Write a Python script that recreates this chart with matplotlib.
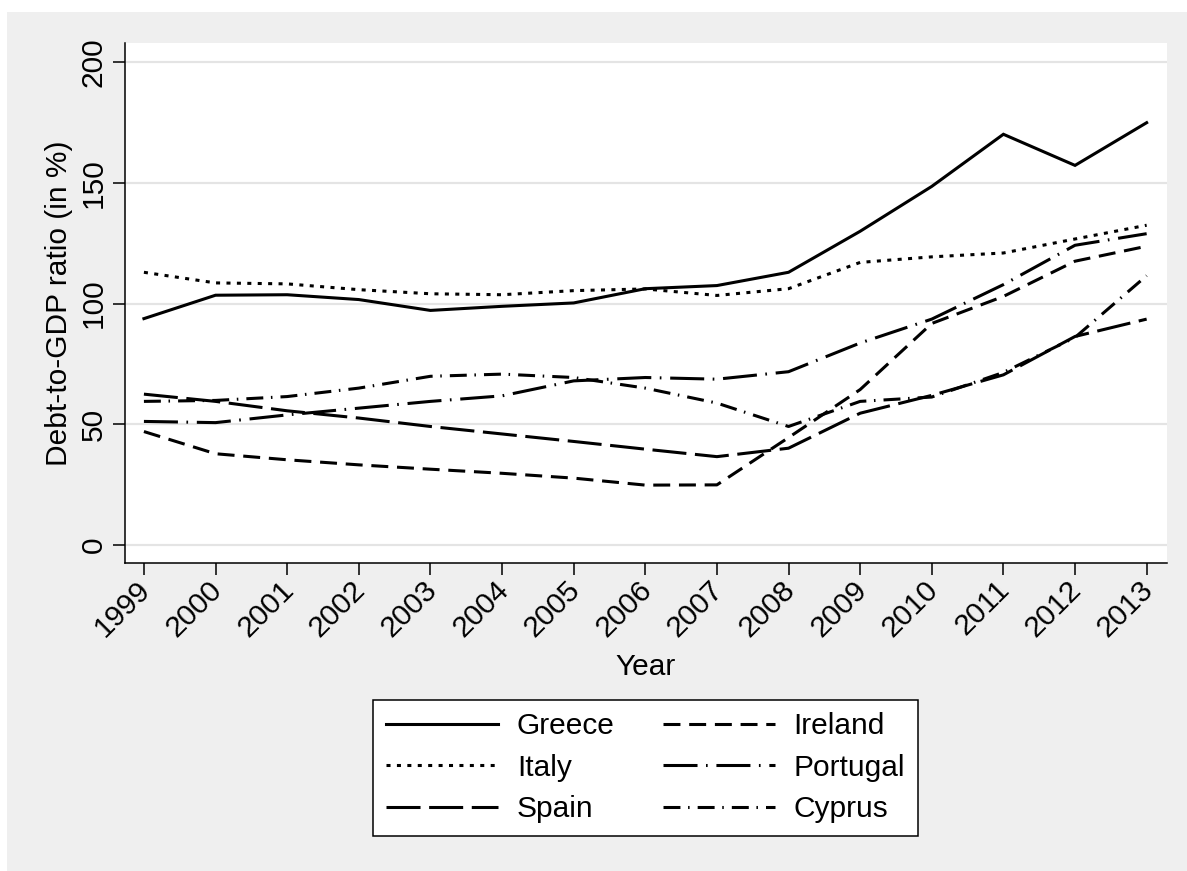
import matplotlib
matplotlib.use("Agg")
import matplotlib.pyplot as plt
from matplotlib.patches import Rectangle

plt.rcParams['font.family'] = ['Liberation Sans', 'DejaVu Sans']
plt.rcParams['lines.scale_dashes'] = False

years = [1999, 2000, 2001, 2002, 2003, 2004, 2005, 2006, 2007, 2008, 2009, 2010, 2011, 2012, 2013]
greece = [93.8, 103.5, 103.7, 101.7, 97.2, 98.9, 100.3, 106.2, 107.5, 113.0, 130.0, 148.6, 170.2, 157.3, 175.0]
italy = [113.0, 108.6, 108.2, 105.8, 104.1, 103.7, 105.4, 106.1, 103.4, 106.2, 117.1, 119.4, 121.0, 126.8, 132.5]
spain = [62.5, 59.5, 55.6, 52.6, 49.1, 46.0, 42.9, 39.7, 36.6, 40.1, 54.6, 62.0, 70.5, 86.4, 93.6]
ireland = [47.0, 37.8, 35.3, 33.2, 31.4, 29.7, 27.7, 24.8, 24.9, 44.5, 64.4, 91.8, 103.0, 117.6, 123.8]
portugal = [51.2, 50.7, 53.9, 56.7, 59.5, 61.8, 68.0, 69.4, 68.7, 71.8, 83.7, 93.6, 107.9, 124.2, 129.0]
cyprus = [59.5, 59.9, 61.5, 65.0, 69.9, 70.8, 69.4, 65.0, 58.8, 49.1, 59.5, 61.3, 71.5, 86.0, 111.6]
yticks = [0, 50, 100, 150, 200]

W, H = 1187, 871
fig = plt.figure(figsize=(W / 100, H / 100), dpi=100, facecolor='white')
fig.patches.append(Rectangle((7 / W, 0), 1, (H - 12) / H, transform=fig.transFigure,
                             facecolor='#EFEFEF', edgecolor='none', zorder=-10))

left, right, top, bottom = 125.3, 1166.7, 43.3, 563.3
ax = fig.add_axes([left / W, (H - bottom) / H, (right - left) / W, (bottom - top) / H])
ax.set_facecolor('white')

lw = 2.2
styles = {
    'Greece': (greece, '-'),
    'Italy': (italy, (0, (2.9, 4.6))),
    'Spain': (spain, (0, (24.5, 6.2))),
    'Ireland': (ireland, (0, (12.2, 6.3))),
    'Portugal': (portugal, (0, (24.5, 6.1, 1.2, 6.3))),
    'Cyprus': (cyprus, (0, (12.2, 5.5, 1.1, 5.8))),
}
handles = []
for name in ['Greece', 'Italy', 'Spain', 'Ireland', 'Portugal', 'Cyprus']:
    vals, ls = styles[name]
    ln, = ax.plot(years, vals, color='black', linewidth=lw, linestyle=ls,
                  dash_capstyle='butt', solid_joinstyle='miter', label=name, zorder=3)
    handles.append(ln)

ax.set_xlim(1998.74, 2013.28)
ax.set_ylim(-7.6, 207.9)

ax.set_yticks(yticks)
ax.set_yticklabels([str(v) for v in yticks])
ax.set_xticks(years)
ax.set_xticklabels([str(y) for y in years])
ax.grid(axis='y', color='#E4E4E4', linewidth=1.6, zorder=0)
ax.set_axisbelow(True)

for s in ['top', 'right']:
    ax.spines[s].set_visible(False)
for s in ['left', 'bottom']:
    ax.spines[s].set_linewidth(1.1)
    ax.spines[s].set_color('black')

ax.tick_params(axis='both', direction='out', length=8.4, width=1.1, color='black',
               labelsize=21.5, labelcolor='black')
ax.tick_params(axis='y', pad=4.2)
ax.tick_params(axis='x', pad=6.0)
for lbl in ax.get_yticklabels():
    lbl.set_rotation(90)
    lbl.set_va('center')
    lbl.set_ha('right')
for lbl in ax.get_xticklabels():
    lbl.set_rotation(45)
    lbl.set_ha('right')
    lbl.set_va('center_baseline')
    lbl.set_rotation_mode('anchor')

ax.set_xlabel('Year', fontsize=21.5, va='baseline')
ax.xaxis.set_label_coords((646 - left) / (right - left), (bottom - 675) / (bottom - top))
ax.set_ylabel('Debt-to-GDP ratio (in %)', fontsize=21.5, va='baseline')
ax.yaxis.set_label_coords((66.7 - left) / (right - left), 0.5)

leg = fig.legend(handles=handles, labels=[h.get_label() for h in handles], ncol=2,
                 loc='center', bbox_to_anchor=(645.5 / W, (H - 767.7) / H),
                 bbox_transform=fig.transFigure, fontsize=21.5, frameon=True,
                 fancybox=False, shadow=False, framealpha=1, edgecolor='black',
                 handlelength=3.75, handletextpad=0.64, columnspacing=1.6,
                 labelspacing=0.45, borderpad=0.42, borderaxespad=0)
leg.get_frame().set_linewidth(1.1)
leg.get_frame().set_facecolor('white')

fig.savefig('out.png', dpi=100, facecolor=fig.get_facecolor())
